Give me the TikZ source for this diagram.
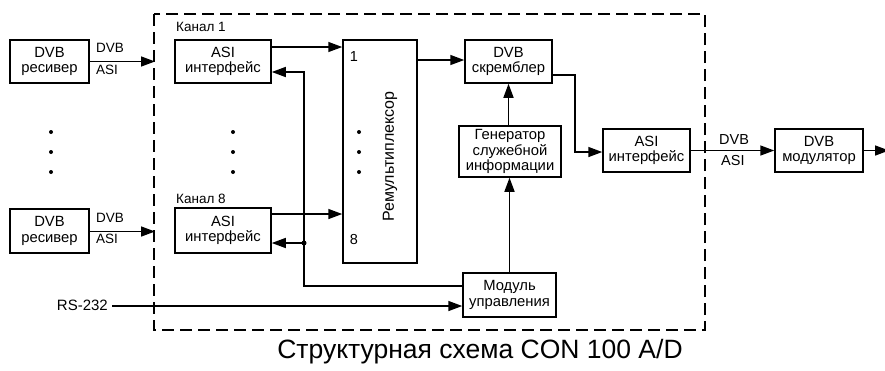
\documentclass[tikz,border=0pt]{standalone}
\usepackage{fontspec}
\setmainfont{Liberation Sans}
\usetikzlibrary{arrows.meta}
\tikzset{
  box/.style={draw, line width=1.5pt, inner sep=0pt, align=center, font=\fontsize{14.8}{15.5}\selectfont},
  arr/.style={line width=1.5pt, -{Triangle[length=14pt,width=10pt]}},
  ln/.style={line width=1.5pt},
  lbl/.style={inner sep=0pt, font=\fontsize{13.5}{14}\selectfont},
  frame/.style={line width=1.5pt, dash pattern=on 12pt off 6pt},
  dotm/.style={circle, fill, inner sep=0pt, minimum size=5pt}
}
\begin{document}
\begin{tikzpicture}[x=1pt,y=-1pt]
\useasboundingbox (0,0) rectangle (885,370);
% frame
\draw[frame] (154,14) rectangle (705,330);
% nodes
\node[box, minimum width=79pt, minimum height=43pt] (r1) at (49.5,61.5) {DVB\\ресивер};
\node[box, minimum width=79pt, minimum height=44pt] (r8) at (49.5,231) {DVB\\ресивер};
\node[box, minimum width=96pt, minimum height=43pt] (a1) at (223,61.5) {ASI\\интерфейс};
\node[box, minimum width=96pt, minimum height=45pt] (a8) at (223,230.5) {ASI\\интерфейс};
\node[box, minimum width=74pt, minimum height=223pt] (m) at (380,151.5) {};
\node[lbl, rotate=90, font=\fontsize{16}{17}\selectfont] (mt) at (390,156.5) {Ремультиплексор};
\node[lbl, font=\fontsize{14.5}{15}\selectfont] (m1) at (354,57) {1};
\node[lbl, font=\fontsize{14.5}{15}\selectfont] (m8) at (354,240) {8};
\node[box, minimum width=87pt, minimum height=43pt] (s) at (508.5,61.5) {DVB\\скремблер};
\node[box, minimum width=102pt, minimum height=51pt] (g) at (510,151.5) {Генератор\\служебной\\информации};
\node[box, minimum width=93pt, minimum height=44pt] (u) at (509.5,295) {Модуль\\управления};
\node[box, minimum width=87pt, minimum height=43pt] (ai) at (646.5,150.5) {ASI\\интерфейс};
\node[box, minimum width=88pt, minimum height=43pt] (dm) at (819,150.5) {DVB\\модулятор};
% labels
\node[lbl, anchor=west] (k1) at (176,27) {Канал 1};
\node[lbl, anchor=west] (k8) at (176,199) {Канал 8};
\node[lbl, anchor=west] (l1a) at (96,48) {DVB};
\node[lbl, anchor=west] (l1b) at (96,70) {ASI};
\node[lbl, anchor=west] (l8a) at (96,218) {DVB};
\node[lbl, anchor=west] (l8b) at (96,239) {ASI};
\node[lbl, anchor=west, font=\fontsize{14.5}{15}\selectfont] (loa) at (719,140) {DVB};
\node[lbl, anchor=west, font=\fontsize{14.5}{15}\selectfont] (lob) at (721,161) {ASI};
\node[lbl, anchor=east, font=\fontsize{15}{16}\selectfont] (rs) at (108,305.5) {RS-232};
\node[lbl, font=\fontsize{26.5}{28}\selectfont] (cap) at (480,352) {Структурная схема CON 100 A/D};
% dots
\foreach \yy [count=\i] in {132,152,172}{
  \node[dotm, minimum size=4pt] (dl\i) at (51,\yy) {};
  \node[dotm, minimum size=4pt] (dc\i) at (233,\yy) {};
  \node[dotm, minimum size=4pt] (dr\i) at (359,\yy) {};
}
% coordinates
\coordinate (in1) at (155,61.5);
\coordinate (in8) at (155,231.5);
\coordinate (y47) at (0,47);
\coordinate (y214) at (0,214);
\coordinate (y60) at (0,60);
\coordinate (y75) at (0,75);
\coordinate (y72) at (0,72);
\coordinate (y243) at (0,243);
\coordinate (y286) at (0,286);
\coordinate (y306) at (0,306);
\coordinate (j1) at (304,72);
\coordinate (j8) at (304,243);
\coordinate (jb) at (304,286);
\coordinate (t1) at (575,75);
\coordinate (t2) at (575,152);
\coordinate (out) at (889,150.5);
% connectors
\draw[arr] (r1.east) -- (in1);
\draw[arr] (r8.east |- in8) -- (in8);
\draw[arr] (a1.east |- y47) -- (m.west |- y47);
\draw[arr] (a8.east |- y214) -- (m.west |- y214);
\draw[arr] (u.west |- y286) -- (jb) -- (j1) -- (a1.east |- j1);
\draw[arr] (j8) -- (a8.east |- j8);
\node[dotm] (jd) at (j8) {};
\draw[arr] (rs.east |- y306) ++(4,0) -- (u.west |- y306);
\draw[arr] (m.east |- y60) -- (s.west |- y60);
\draw[arr] (s.east |- t1) -- (t1) -- (t2) -- (ai.west |- t2);
\draw[arr] (g.north -| s.south) -- (s.south);
\draw[arr] (u.north) -- (g.south -| u.north);
\draw[arr] (ai.east) -- (dm.west);
\draw[arr] (dm.east) -- (out);
\end{tikzpicture}
\end{document}
